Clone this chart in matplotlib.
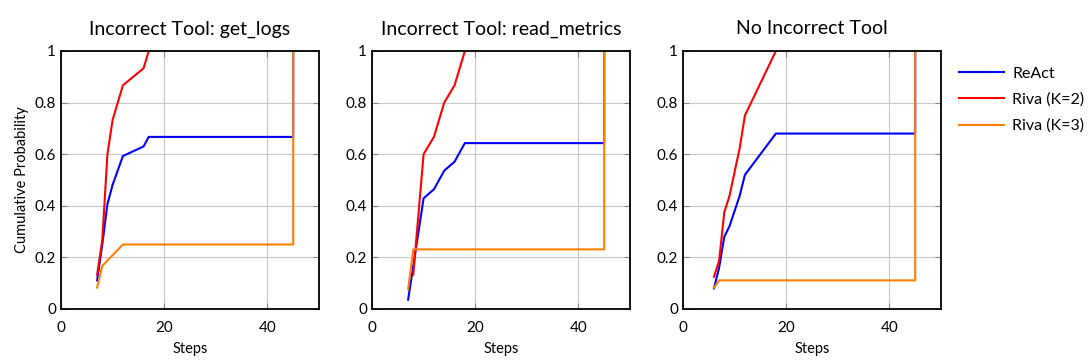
import matplotlib

matplotlib.use("Agg")
import matplotlib.pyplot as plt
from matplotlib.ticker import FuncFormatter

plt.rcParams["font.family"] = ["Lato", "DejaVu Sans"]

titles = ["Incorrect Tool: get_logs", "Incorrect Tool: read_metrics", "No Incorrect Tool"]
labels = ["ReAct", "Riva (K=2)", "Riva (K=3)"]
colors = ["#0000ff", "#ff0000", "#ff7f00"]

# panel 1: get_logs
react_1_x = [7, 8, 9, 10, 12, 16, 17, 45, 45]
react_1_y = [0.111, 0.25, 0.407, 0.481, 0.593, 0.630, 0.667, 0.667, 1.0]
k2_1_x = [7, 8, 9, 10, 12, 16, 17]
k2_1_y = [0.133, 0.267, 0.600, 0.733, 0.867, 0.933, 1.0]
k3_1_x = [7, 8, 12, 45, 45]
k3_1_y = [0.083, 0.167, 0.250, 0.250, 1.0]

# panel 2: read_metrics
react_2_x = [7, 10, 12, 14, 16, 18, 45, 45]
react_2_y = [0.036, 0.429, 0.464, 0.536, 0.571, 0.643, 0.643, 1.0]
k2_2_x = [8, 10, 12, 14, 16, 18]
k2_2_y = [0.133, 0.600, 0.667, 0.800, 0.867, 1.0]
k3_2_x = [7, 8, 45, 45]
k3_2_y = [0.077, 0.231, 0.231, 1.0]

# panel 3: no incorrect tool
react_3_x = [6, 7, 8, 9, 11, 12, 18, 45, 45]
react_3_y = [0.08, 0.16, 0.28, 0.32, 0.44, 0.52, 0.68, 0.68, 1.0]
k2_3_x = [6, 7, 8, 9, 11, 12, 18]
k2_3_y = [0.125, 0.1875, 0.375, 0.4375, 0.625, 0.75, 1.0]
k3_3_x = [6, 7, 45, 45]
k3_3_y = [0.083, 0.111, 0.111, 1.0]

panels = [
    [(react_1_x, react_1_y), (k2_1_x, k2_1_y), (k3_1_x, k3_1_y)],
    [(react_2_x, react_2_y), (k2_2_x, k2_2_y), (k3_2_x, k3_2_y)],
    [(react_3_x, react_3_y), (k2_3_x, k2_3_y), (k3_3_x, k3_3_y)],
]

fig = plt.figure(figsize=(10.9, 3.64), dpi=100)
lefts = [61 / 1090, 372 / 1090, 683 / 1090]
axes = [fig.add_axes([l, 55 / 364, 258 / 1090, 258 / 364]) for l in lefts]

for i, (ax, series) in enumerate(zip(axes, panels)):
    for (xs, ys), lab, c in zip(series, labels, colors):
        ax.plot(xs, ys, color=c, lw=1.5, label=lab)
    ax.set_xlim(0, 50)
    ax.set_ylim(0, 1)
    ax.set_xticks([0, 20, 40])
    ax.set_yticks([0, 0.2, 0.4, 0.6, 0.8, 1.0])
    ax.yaxis.set_major_formatter(FuncFormatter(lambda v, p: f"{v:g}"))
    ax.grid(color="#c8c8c8", lw=0.8)
    ax.set_axisbelow(True)
    ax.tick_params(direction="in", length=4, color="#888888", labelsize=11,
                   top=True, right=True)
    ax.tick_params(axis="x", pad=9)
    for sp in ax.spines.values():
        sp.set_linewidth(1.3)
    ax.set_title(titles[i], fontsize=14, pad=12)
    ax.set_xlabel("Steps", fontsize=10.5, labelpad=5)

axes[0].set_ylabel("Cumulative Probability", fontsize=10.5, labelpad=4)
fig.legend(*axes[2].get_legend_handles_labels(), loc="upper left",
           bbox_to_anchor=(945 / 1090, 1 - 52 / 364), frameon=False,
           fontsize=11.5, handlelength=2.8, handletextpad=0.5, labelspacing=0.75)

fig.savefig("out.png", dpi=100)
